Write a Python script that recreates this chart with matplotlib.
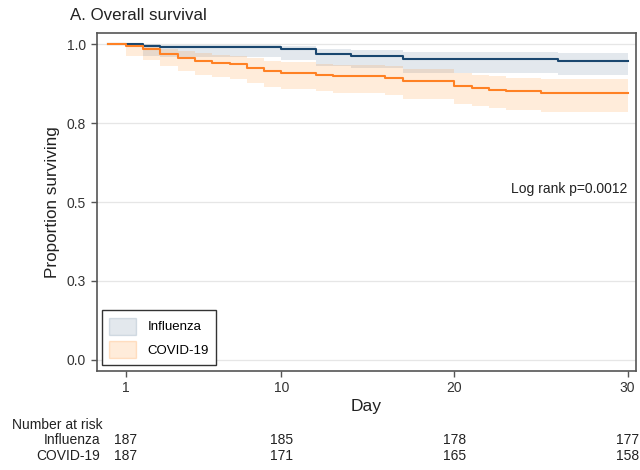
import numpy as np
import matplotlib
matplotlib.use("Agg")
import matplotlib.pyplot as plt
from matplotlib.patches import Patch
from matplotlib.transforms import blended_transform_factory

plt.rcParams['font.family'] = ['Liberation Sans', 'DejaVu Sans']

# Kaplan-Meier steps (day of drop, survival after drop, 95% band)
flu_days = [0, 2, 3, 10, 12, 14, 17, 26]
flu_surv = [1.0, 0.9947, 0.9893, 0.9840, 0.9679, 0.9626, 0.9519, 0.9465]
flu_lo = [np.nan, 0.963, 0.958, 0.951, 0.930, 0.923, 0.910, 0.903]
flu_hi = [np.nan, 0.999, 0.997, 0.995, 0.985, 0.982, 0.975, 0.971]

covid_days = [0, 1, 2, 3, 4, 5, 6, 7, 8, 9, 10, 12, 13, 16, 17, 20, 21, 22, 23, 25]
covid_surv = [1.0, 0.9947, 0.9840, 0.9679, 0.9572, 0.9465, 0.9412, 0.9358, 0.9251, 0.9144,
              0.9091, 0.9037, 0.8984, 0.8930, 0.8824, 0.8663, 0.8610, 0.8556, 0.8503, 0.8449]
covid_lo = [np.nan, 0.963, 0.951, 0.930, 0.916, 0.903, 0.896, 0.890, 0.877, 0.864,
            0.858, 0.852, 0.845, 0.839, 0.827, 0.809, 0.803, 0.797, 0.791, 0.785]
covid_hi = [np.nan, 0.999, 0.995, 0.985, 0.978, 0.971, 0.967, 0.963, 0.955, 0.947,
            0.942, 0.938, 0.934, 0.930, 0.921, 0.908, 0.903, 0.899, 0.894, 0.890]

end_day = 30
yticks = [0.0, 0.25, 0.5, 0.75, 1.0]
ytick_labels = ['0.0', '0.3', '0.5', '0.8', '1.0']
xticks = [1, 10, 20, 30]

risk_days = [1, 10, 20, 30]
risk_flu = [187, 185, 178, 177]
risk_covid = [187, 171, 165, 158]

navy = '#1a476f'
orange = '#ff8124'
flu_band = (0.102, 0.278, 0.435, 0.12)
covid_band = (1.0, 0.5, 0.05, 0.15)
txt = '#222222'

fig = plt.figure(figsize=(6.4, 4.7), dpi=100)
ax = fig.add_axes([0.151, 0.2113, 0.843, 0.7177])


def ext(vals):
    # carry the last value out to the end of follow-up
    return list(vals) + [vals[-1]]


fx = flu_days + [end_day]
cx = covid_days + [end_day]

for y in yticks:
    ax.axhline(y, color='#e6e6e6', lw=0.9, zorder=0)

ax.fill_between(fx, ext(flu_lo), ext(flu_hi), step='post', color=flu_band, lw=0, zorder=1)
ax.fill_between(cx, ext(covid_lo), ext(covid_hi), step='post', color=covid_band, lw=0, zorder=2)
ax.step(fx, ext(flu_surv), where='post', color=navy, lw=1.5, zorder=3)
ax.step(cx, ext(covid_surv), where='post', color=orange, lw=1.5, zorder=4)

ax.set_xlim(-0.68, 30.5)
ax.set_ylim(-0.034, 1.034)
ax.set_yticks(yticks)
ax.set_yticklabels(ytick_labels)
ax.set_xticks(xticks)
ax.tick_params(direction='out', length=4, width=1, color='#555555', labelcolor='#333333',
               labelsize=10)
for s in ax.spines.values():
    s.set_color('#555555')
    s.set_linewidth(1.2)

ax.set_ylabel('Proportion surviving', fontsize=12.3, color=txt, labelpad=5)
ax.set_xlabel('Day', fontsize=12.5, color=txt, labelpad=3)
ax.text(30, 0.542, 'Log rank p=0.0012', ha='right', va='center', fontsize=10, color=txt)

fig.text(70 / 640, 1 - 15 / 470, 'A. Overall survival', ha='left', va='center',
         fontsize=12.2, color=txt)

handles = [Patch(facecolor=flu_band, edgecolor=(0.102, 0.278, 0.435, 0.15), label='Influenza'),
           Patch(facecolor=covid_band, edgecolor=(1.0, 0.5, 0.05, 0.2), label='COVID-19')]
leg = ax.legend(handles=handles, loc='lower left', fontsize=9.5, frameon=True, fancybox=False,
                edgecolor='#333333', borderaxespad=0.4, handlelength=2.0, handleheight=1.6,
                borderpad=0.55, labelspacing=0.5, handletextpad=0.9)
leg.get_frame().set_linewidth(1.0)
leg.get_frame().set_alpha(1)

# number at risk table
tr = blended_transform_factory(ax.transData, fig.transFigure)
fig.text(12 / 640, 1 - 425 / 470, 'Number at risk', ha='left', va='center', fontsize=10,
         color=txt)
fig.text(100 / 640, 1 - 440 / 470, 'Influenza', ha='right', va='center', fontsize=10,
         color=txt)
fig.text(100 / 640, 1 - 456 / 470, 'COVID-19', ha='right', va='center', fontsize=10,
         color=txt)
for d, a, b in zip(risk_days, risk_flu, risk_covid):
    ax.text(d, 1 - 440 / 470, str(a), transform=tr, ha='center', va='center', fontsize=10,
            color=txt)
    ax.text(d, 1 - 456 / 470, str(b), transform=tr, ha='center', va='center', fontsize=10,
            color=txt)

fig.savefig('out.png', dpi=100)
